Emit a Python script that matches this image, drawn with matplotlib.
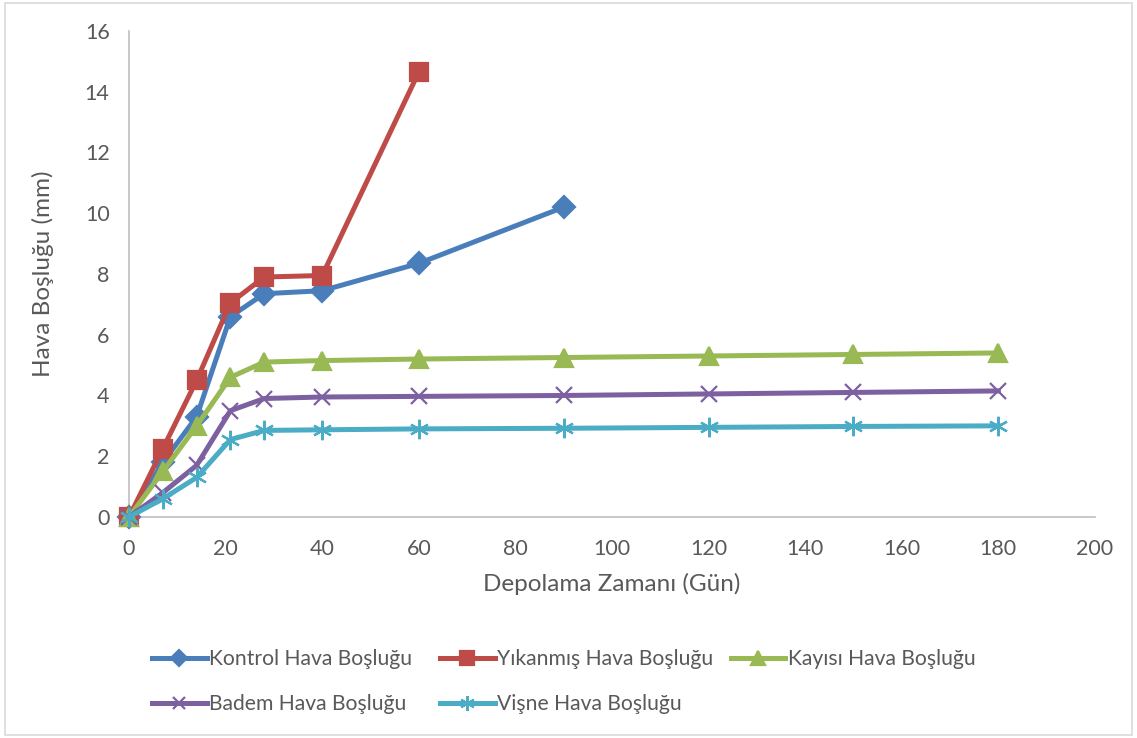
import matplotlib.pyplot as plt
from matplotlib.patches import Rectangle

plt.rcParams['font.family'] = ['Lato', 'DejaVu Sans']

# Storage days and measured headspace (mm) for each sample group
days = [0, 7, 14, 21, 28, 40, 60, 90, 120, 150, 180]
kontrol = [0, 1.8, 3.3, 6.6, 7.35, 7.45, 8.35, 10.2]
yikanmis = [0, 2.25, 4.5, 7.05, 7.9, 7.95, 14.65]
kayisi = [0, 1.5, 3.0, 4.6, 5.1, 5.15, 5.2, 5.25, 5.3, 5.35, 5.4]
badem = [0, 0.8, 1.7, 3.5, 3.9, 3.95, 3.97, 4.0, 4.05, 4.1, 4.15]
visne = [0, 0.6, 1.3, 2.55, 2.85, 2.87, 2.9, 2.92, 2.95, 2.98, 3.0]

series = [
    ('Kontrol Hava Boşluğu', kontrol, '#4A7EBB', 'D', 11),
    ('Yıkanmış Hava Boşluğu', yikanmis, '#BE4B48', 's', 13),
    ('Kayısı Hava Boşluğu', kayisi, '#98B954', '^', 13),
    ('Badem Hava Boşluğu', badem, '#7D60A0', 'x', 12),
    ('Vişne Hava Boşluğu', visne, '#4BACC6', (6, 2, 0), 14),
]

fig = plt.figure(figsize=(11.37, 7.38), dpi=100)
ax = fig.add_axes([0.1135, 0.2995, 0.8495, 0.6585])

handles = {}
for name, vals, color, marker, ms in series:
    h, = ax.plot(days[:len(vals)], vals, color=color, lw=3.6, marker=marker,
                 markersize=ms, markeredgewidth=1.6, label=name,
                 solid_joinstyle='round', clip_on=False)
    handles[name] = h

ax.set_xlim(0, 200)
ax.set_ylim(0, 16)
ax.set_xticks(range(0, 201, 20))
ax.set_yticks(range(0, 17, 2))
ax.tick_params(length=0, labelsize=15.5, colors='#595959')
ax.tick_params(axis='x', pad=16)
ax.tick_params(axis='y', pad=14)
for side in ('top', 'right'):
    ax.spines[side].set_visible(False)
for side in ('left', 'bottom'):
    ax.spines[side].set_color('#BFBFBF')
    ax.spines[side].set_linewidth(1.2)
    ax.spines[side].set_zorder(0)

ax.set_xlabel('Depolama Zamanı (Gün)', fontsize=17.5, color='#595959', labelpad=10)
ax.set_ylabel('Hava Boşluğu (mm)', fontsize=17.5, color='#595959', labelpad=22)

# legend laid out as three equal-width columns
columns = [
    (0.1337, ['Kontrol Hava Boşluğu', 'Badem Hava Boşluğu']),
    (0.3870, ['Yıkanmış Hava Boşluğu', 'Vişne Hava Boşluğu']),
    (0.6425, ['Kayısı Hava Boşluğu']),
]
for x0, names in columns:
    fig.legend([handles[n] for n in names], names, frameon=False,
               loc='upper left', bbox_to_anchor=(x0, 0.1206), fontsize=15.2,
               borderpad=0, borderaxespad=0,
               handlelength=2.6, handletextpad=0.1, labelspacing=1.2,
               markerscale=0.75, labelcolor='#595959')

fig.patches.append(Rectangle((0.004, 0.004), 0.992, 0.992, transform=fig.transFigure,
                             fill=False, edgecolor='#D9D9D9', lw=1.2))

fig.savefig('out.png', dpi=100, facecolor='white')
